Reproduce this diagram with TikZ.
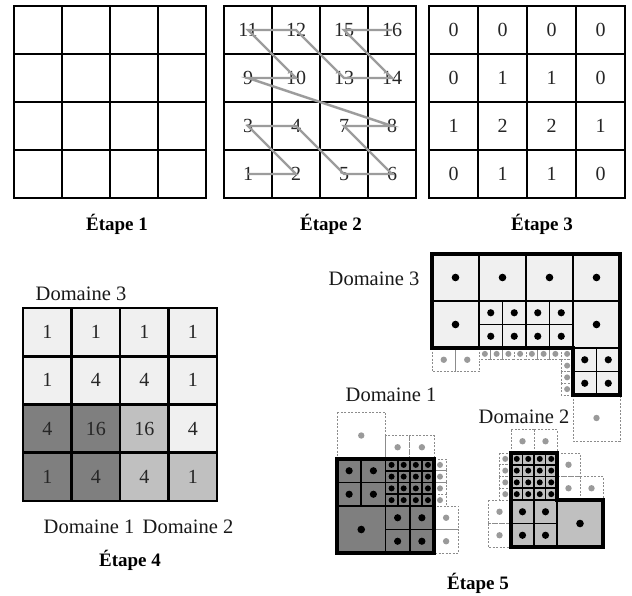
\documentclass[tikz,border=0pt]{standalone}
\usepackage{fontspec}
\setmainfont{Liberation Serif}
\definecolor{dthree}{HTML}{F0F0F0}
\definecolor{done}{HTML}{7F7F7F}
\definecolor{dtwo}{HTML}{C0C0C0}
\definecolor{ghostc}{HTML}{8C8C8C}
\definecolor{ghostdot}{HTML}{9A9A9A}
\definecolor{pathc}{HTML}{9C9C9C}
\tikzset{
  gl/.style={line width=2.6, draw=black, line cap=rect},
  outl/.style={line width=3.4, draw=black, line join=miter},
  num/.style={inner sep=0pt, text=black!85, font=\fontsize{20}{22}\selectfont},
  dlabel/.style={inner sep=0pt, text=black!90, font=\fontsize{20.5}{22}\selectfont},
  elabel/.style={inner sep=0pt, font=\fontsize{19}{21}\selectfont\bfseries},
  pathline/.style={draw=pathc, line width=2.4},
  ghostline/.style={draw=ghostc, line width=0.9, dash pattern=on 2pt off 1.5pt, fill=white}
}
% #1 x, #2 y, #3 w, #4 h, #5 n, #6 fill colour, #7 dot radius
\newcommand{\sgrid}[7]{%
  \foreach \i in {1,...,#5}{\foreach \j in {1,...,#5}{
    \filldraw[fill=#6,draw=black,line width=1.9]
      ({#1+(\i-1)*#3/#5},{#2+(\j-1)*#4/#5}) rectangle ({#1+\i*#3/#5},{#2+\j*#4/#5});
    \fill[black] ({#1+(\i-0.5)*#3/#5},{#2+(\j-0.5)*#4/#5}) circle[radius=#7];
  }}}
% ghost cell: #1 x, #2 y, #3 w, #4 h, #5 dot radius
\newcommand{\gcell}[5]{%
  \filldraw[ghostline] ({#1},{#2}) rectangle ({#1+#3},{#2+#4});
  \fill[ghostdot] ({#1+#3/2},{#2+#4/2}) circle[radius=#5];}
\begin{document}
\begin{tikzpicture}[x=1pt,y=-1pt]
\useasboundingbox[fill=white] (0,0) rectangle (632,595);

% ---------- Etape 1
\foreach \k in {0,...,4}{
  \draw[gl] ({14+48*\k},6) -- ({14+48*\k},198);
  \draw[gl] (14,{6+48*\k}) -- (206,{6+48*\k});
}
\node[elabel] (e1) at (117,224) {Étape 1};

% ---------- Etape 2
\foreach \k in {0,...,4}{
  \draw[gl] ({224+48*\k},6) -- ({224+48*\k},198);
  \draw[gl] (224,{6+48*\k}) -- (416,{6+48*\k});
}
\foreach \v [count=\c from 0] in {11,12,15,16,9,10,13,14,3,4,7,8,1,2,5,6}{
  \pgfmathtruncatemacro\col{mod(\c,4)}
  \pgfmathtruncatemacro\row{div(\c,4)}
  \node[num] (n\v) at ({224+48*\col+24},{6+48*\row+24}) {\v};
}
\draw[pathline] (n1.center) -- (n2.center) -- (n3.center) -- (n4.center)
  -- (n5.center) -- (n6.center) -- (n7.center) -- (n8.center)
  -- (n9.center) -- (n10.center) -- (n11.center) -- (n12.center)
  -- (n13.center) -- (n14.center) -- (n15.center) -- (n16.center);
\node[elabel] (e2) at (331,224) {Étape 2};

% ---------- Etape 3
\foreach \k in {0,...,4}{
  \draw[gl] ({429+49*\k},6) -- ({429+49*\k},198);
  \draw[gl] (429,{6+48*\k}) -- (625,{6+48*\k});
}
\foreach \v [count=\c from 0] in {0,0,0,0,0,1,1,0,1,2,2,1,0,1,1,0}{
  \pgfmathtruncatemacro\col{mod(\c,4)}
  \pgfmathtruncatemacro\row{div(\c,4)}
  \node[num] (t\c) at ({429+49*\col+24.5},{6+48*\row+24}) {\v};
}
\node[elabel] (e3) at (542,224) {Étape 3};

% ---------- Etape 4
\foreach \v/\f [count=\c from 0] in {1/dthree,1/dthree,1/dthree,1/dthree,
   1/dthree,4/dthree,4/dthree,1/dthree,
   4/done,16/done,16/dtwo,4/dthree,
   1/done,4/done,4/dtwo,1/dtwo}{
  \pgfmathtruncatemacro\col{mod(\c,4)}
  \pgfmathtruncatemacro\row{div(\c,4)}
  \fill[\f] ({23+48.5*\col},{308+48.25*\row}) rectangle ({23+48.5*(\col+1)},{308+48.25*(\row+1)});
  \node[num] (q\c) at ({23+48.5*\col+24.25},{308+48.25*\row+24.1}) {\v};
}
\foreach \k in {0,...,4}{
  \draw[gl] ({23+48.5*\k},308) -- ({23+48.5*\k},501);
  \draw[gl] (23,{308+48.25*\k}) -- (217,{308+48.25*\k});
}
\node[dlabel] (d43) at (81,294) {Domaine 3};
\node[dlabel] (d41) at (89,527) {Domaine 1};
\node[dlabel] (d42) at (188,527) {Domaine 2};
\node[elabel] (e4) at (130,560) {Étape 4};

% ---------- Etape 5 : ghost cells
% domain 3 ghosts
\gcell{432}{348}{23.5}{23.5}{3.2}
\gcell{455.5}{348}{23.5}{23.5}{3.2}
\foreach \k in {0,...,7}{\gcell{479+11.75*\k}{348}{11.75}{11.75}{3}}
\foreach \k in {1,2,3}{\gcell{561.25}{348+11.75*\k}{11.75}{11.75}{3}}
\gcell{573}{395}{47}{46}{3.2}
% domain 1 ghosts
\gcell{337}{412}{48.5}{47}{3.2}
\gcell{385.5}{435.5}{24.25}{23.5}{3.2}
\gcell{409.75}{435.5}{24.25}{23.5}{3.2}
\foreach \k in {0,...,3}{\gcell{434}{459+11.75*\k}{12}{11.75}{3}}
\gcell{434}{506}{24.25}{23.5}{3.2}
\gcell{434}{529.5}{24.25}{23.5}{3.2}
% domain 2 ghosts
\gcell{511}{429.5}{23}{23.5}{3.2}
\gcell{534}{429.5}{23}{23.5}{3.2}
\foreach \k in {0,...,3}{\gcell{499.5}{453+11.75*\k}{11.5}{11.75}{3}}
\gcell{557}{453}{23}{23.5}{3.2}
\gcell{557}{476.5}{23}{23.5}{3.2}
\gcell{580}{476.5}{23}{23.5}{3.2}
\gcell{488}{500}{23}{23.5}{3.2}
\gcell{488}{523.5}{23}{23.5}{3.2}

% ---------- Etape 5 : domain 3
\foreach \c in {0,...,3}{\sgrid{432+47*\c}{254}{47}{47}{1}{dthree}{3.8}}
\sgrid{432}{301}{47}{47}{1}{dthree}{3.8}
\sgrid{479}{301}{47}{47}{2}{dthree}{3.6}
\sgrid{526}{301}{47}{47}{2}{dthree}{3.6}
\sgrid{573}{301}{47}{47}{1}{dthree}{3.8}
\sgrid{573}{348}{47}{47}{2}{dthree}{3.6}
\draw[outl] (432,254) -- (620,254) -- (620,395) -- (573,395) -- (573,348) -- (432,348) -- cycle;

% ---------- Etape 5 : domain 1
\sgrid{337}{459}{48.5}{47}{2}{done}{3.6}
\sgrid{385.5}{459}{48.5}{47}{4}{done}{3}
\sgrid{337}{506}{48.5}{47}{1}{done}{3.8}
\sgrid{385.5}{506}{48.5}{47}{2}{done}{3.6}
\draw[outl] (337,459) rectangle (434,553);

% ---------- Etape 5 : domain 2
\sgrid{511}{453}{46}{47}{4}{dtwo}{3}
\sgrid{511}{500}{46}{47}{2}{dtwo}{3.6}
\sgrid{557}{500}{46}{47}{1}{dtwo}{3.8}
\draw[outl] (511,453) -- (557,453) -- (557,500) -- (603,500) -- (603,547) -- (511,547) -- cycle;

\node[dlabel] (d53) at (374,279) {Domaine 3};
\node[dlabel] (d51) at (391,395) {Domaine 1};
\node[dlabel] (d52) at (524,417) {Domaine 2};
\node[elabel] (e5) at (478,583) {Étape 5};
\end{tikzpicture}
\end{document}
